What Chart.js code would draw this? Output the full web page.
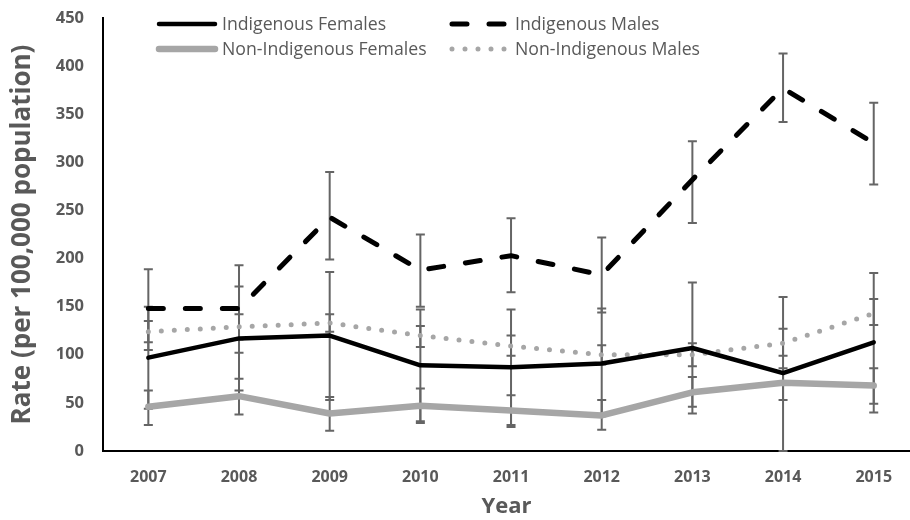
<!DOCTYPE html>
<html>
<head>
<meta charset="utf-8">
<script src="https://cdn.jsdelivr.net/npm/chart.js@4.4.1/dist/chart.umd.min.js"></script>
<style>
  html, body { margin: 0; padding: 0; background: #fff; }
  #wrap { width: 910px; height: 520px; }
</style>
</head>
<body>
<div id="wrap"><canvas id="myChart" width="910" height="520"></canvas></div>
<script>
// data
const years = [2007, 2008, 2009, 2010, 2011, 2012, 2013, 2014, 2015];

const indigFemales     = [97, 117, 120, 89, 87, 91, 107, 81, 113];
const indigFemalesLow  = [44, 63, 53, 31, 27, 36, 39, 0, 40];
const indigFemalesHigh = [150, 171, 186, 147, 147, 148, 175, 160, 185];

const indigMales     = [148, 148, 243, 188, 203, 183, 282, 377, 320];
const indigMalesLow  = [105, 102, 199, 150, 165, 144, 237, 342, 277];
const indigMalesHigh = [189, 193, 290, 225, 242, 222, 322, 413, 362];

const nonIndigFemales     = [46, 57, 39, 47, 42, 37, 61, 71, 68];
const nonIndigFemalesLow  = [27, 38, 21, 29, 25, 22, 46, 53, 49];
const nonIndigFemalesHigh = [63, 75, 56, 65, 58, 53, 77, 86, 86];

const nonIndigMales     = [124, 129, 133, 120, 109, 100, 100, 112, 143];
const nonIndigMalesLow  = [113, 116, 124, 108, 99, 90, 88, 99, 131];
const nonIndigMalesHigh = [135, 142, 142, 130, 120, 110, 112, 127, 158];

const yTicks = [0, 50, 100, 150, 200, 250, 300, 350, 400, 450];

const textGray = '#595959';
const fontFam = '"Open Sans", "Liberation Sans", sans-serif';

function pts(values) {
    return values.map((v, i) => ({ x: years[i], y: v }));
}

// error bars drawn through the chart scales
const errorBars = {
    id: 'errorBars',
    beforeDatasetsDraw(chart) {
        const ctx = chart.ctx;
        const xs = chart.scales.x, ys = chart.scales.y;
        ctx.save();
        ctx.strokeStyle = '#656565';
        ctx.lineWidth = 2;
        chart.data.datasets.forEach(ds => {
            ds.low.forEach((lo, i) => {
                const x = xs.getPixelForValue(years[i]);
                const yl = ys.getPixelForValue(lo);
                const yh = ys.getPixelForValue(ds.high[i]);
                ctx.beginPath();
                ctx.moveTo(x, yl); ctx.lineTo(x, yh);
                ctx.moveTo(x - 4.5, yl); ctx.lineTo(x + 4.5, yl);
                ctx.moveTo(x - 4.5, yh); ctx.lineTo(x + 4.5, yh);
                ctx.stroke();
            });
        });
        ctx.restore();
    }
};

// 2 x 2 legend inside the plot, like the original
const boxLegend = {
    id: 'boxLegend',
    afterDraw(chart) {
        const ctx = chart.ctx;
        const spots = [[157, 24], [450, 24], [157, 49], [450, 49]];
        ctx.save();
        ctx.font = '17.7px ' + fontFam;
        ctx.fillStyle = textGray;
        ctx.textBaseline = 'middle';
        chart.data.datasets.forEach((ds, i) => {
            const [x, y] = spots[i];
            ctx.save();
            ctx.strokeStyle = ds.borderColor;
            ctx.lineWidth = ds.borderWidth;
            ctx.lineCap = ds.borderCapStyle || 'butt';
            ctx.setLineDash(ds.borderDash || []);
            ctx.beginPath();
            ctx.moveTo(x + 2, y); ctx.lineTo(x + 58, y);
            ctx.stroke();
            ctx.restore();
            ctx.fillText(ds.label, x + 65, y + 1);
        });
        ctx.restore();
    }
};

const ctx = document.getElementById('myChart').getContext('2d');
const myChart = new Chart(ctx, {
    type: 'line',
    data: {
        datasets: [
            {
                label: 'Indigenous Females',
                data: pts(indigFemales), low: indigFemalesLow, high: indigFemalesHigh,
                borderColor: '#000000', borderWidth: 4.5, borderCapStyle: 'round'
            },
            {
                label: 'Indigenous Males',
                data: pts(indigMales), low: indigMalesLow, high: indigMalesHigh,
                borderColor: '#000000', borderWidth: 5, borderCapStyle: 'round',
                borderDash: [15, 22]
            },
            {
                label: 'Non-Indigenous Females',
                data: pts(nonIndigFemales), low: nonIndigFemalesLow, high: nonIndigFemalesHigh,
                borderColor: '#a6a6a6', borderWidth: 6.5, borderCapStyle: 'round'
            },
            {
                label: 'Non-Indigenous Males',
                data: pts(nonIndigMales), low: nonIndigMalesLow, high: nonIndigMalesHigh,
                borderColor: '#a6a6a6', borderWidth: 5, borderCapStyle: 'round',
                borderDash: [0, 13]
            }
        ]
    },
    options: {
        responsive: false,
        animation: false,
        layout: { padding: { top: 18, right: 0, left: 0, bottom: 0 } },
        elements: {
            point: { radius: 0, hoverRadius: 0 },
            line: { tension: 0, fill: false, borderJoinStyle: 'round' }
        },
        plugins: {
            legend: { display: false },
            tooltip: { enabled: false }
        },
        scales: {
            x: {
                type: 'linear',
                min: 2006.5,
                max: 2015.4,
                afterBuildTicks: s => { s.ticks = years.map(v => ({ value: v })); },
                afterFit: s => { s.height = 69; },
                grid: { display: false, drawTicks: false },
                border: { display: true, color: '#000', width: 2 },
                ticks: {
                    padding: 17,
                    color: textGray,
                    font: { family: fontFam, size: 16, weight: 'bold' },
                    callback: v => String(v)
                },
                title: {
                    display: true,
                    text: 'Year',
                    color: textGray,
                    font: { family: fontFam, size: 22, weight: 'bold' },
                    padding: { top: 0, bottom: 0 }
                }
            },
            y: {
                min: 0,
                max: 450,
                afterBuildTicks: s => { s.ticks = yTicks.map(v => ({ value: v })); },
                afterFit: s => { s.width = 103; s.paddingTop = 0; s.paddingBottom = 0; },
                grid: { display: false, drawTicks: false },
                border: { display: true, color: '#000', width: 2 },
                ticks: {
                    padding: 19,
                    color: textGray,
                    font: { family: fontFam, size: 16.5, weight: 'bold' }
                },
                title: {
                    display: true,
                    text: 'Rate (per 100,000 population)',
                    color: textGray,
                    font: { family: fontFam, size: 26, weight: 'bold' },
                    padding: { top: 7, bottom: 0 }
                }
            }
        }
    },
    plugins: [errorBars, boxLegend]
});
</script>
</body>
</html>
